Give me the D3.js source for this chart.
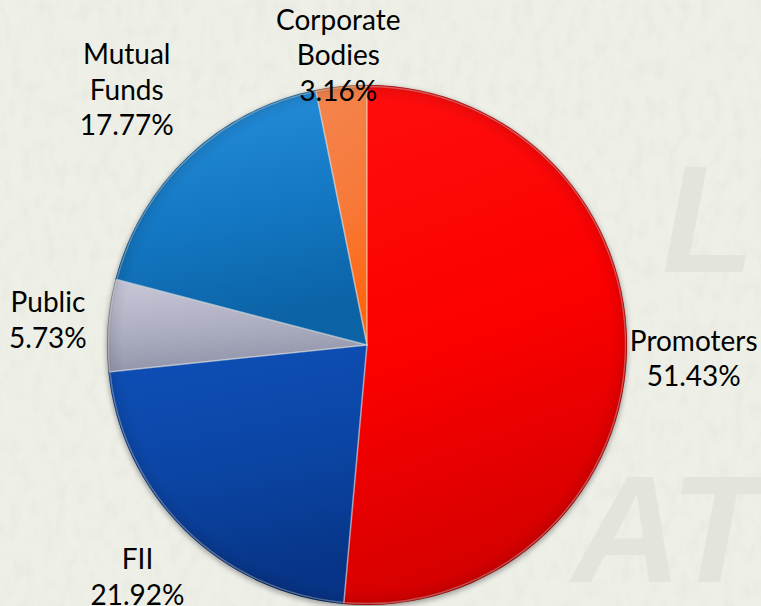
<!DOCTYPE html>
<html>
<head>
<meta charset="utf-8">
<script src="https://cdn.jsdelivr.net/npm/d3@7"></script>
<style>
  html, body { margin: 0; padding: 0; background: #eef0e8; }
  svg { display: block; }
</style>
</head>
<body>
<div id="chart"></div>
<script>
// shareholding pattern
const categories = ["Promoters", "FII", "Public", "Mutual Funds", "Corporate Bodies"];
const shares = [51.43, 21.92, 5.73, 17.77, 3.16];
const labelLines = [["Promoters"], ["FII"], ["Public"], ["Mutual", "Funds"], ["Corporate", "Bodies"]];

// colours per slice: [top, middle, bottom]
const sliceColors = [
    ["#ff0e0e", "#fb0000", "#d40000"],
    ["#0e50b8", "#0b45a4", "#073486"],
    ["#c8cada", "#aeb0c2", "#9294aa"],
    ["#2892de", "#1478c4", "#0b62a4"],
    ["#f3854f", "#f77a3a", "#ff6610"]
];
// distance of each label block from the pie centre
const labelRadius = [327, 327, 320, 350, 290];

const width = 761, height = 606;
const cx = 367, cy = 345, radius = 260;
const lineHeight = 35.5;

const svg = d3.select("#chart")
              .append("svg")
              .attr("width", width)
              .attr("height", height);
const defs = svg.append("defs");

// paper texture
const paper = defs.append("filter")
                  .attr("id", "paper")
                  .attr("x", 0).attr("y", 0)
                  .attr("width", 1).attr("height", 1);
paper.append("feTurbulence")
     .attr("type", "fractalNoise")
     .attr("baseFrequency", "0.09 0.05")
     .attr("numOctaves", 3)
     .attr("seed", 7);
paper.append("feColorMatrix")
     .attr("values", "0 0 0 0 0.55  0 0 0 0 0.56  0 0 0 0 0.5  0 0 0 -1.2 0.7");
paper.append("feComposite").attr("in2", "SourceGraphic").attr("operator", "in");

const blur = defs.append("filter")
                 .attr("id", "blur")
                 .attr("x", -0.1).attr("y", -0.1)
                 .attr("width", 1.2).attr("height", 1.2);
blur.append("feGaussianBlur").attr("stdDeviation", 2.5);

sliceColors.forEach((c, i) => {
    const g = defs.append("linearGradient")
                  .attr("id", "slice" + i)
                  .attr("x1", 0).attr("y1", 0)
                  .attr("x2", 0.2).attr("y2", 1);
    g.append("stop").attr("offset", "0%").attr("stop-color", c[0]);
    g.append("stop").attr("offset", "55%").attr("stop-color", c[1]);
    g.append("stop").attr("offset", "100%").attr("stop-color", c[2]);
});

// darker rim like the bevel of the original (pie-centred coords)
const rim = defs.append("radialGradient")
                .attr("id", "rim")
                .attr("gradientUnits", "userSpaceOnUse")
                .attr("cx", 0).attr("cy", 0).attr("r", radius);
rim.append("stop").attr("offset", "0%").attr("stop-color", "#000").attr("stop-opacity", 0);
rim.append("stop").attr("offset", "94%").attr("stop-color", "#000").attr("stop-opacity", 0);
rim.append("stop").attr("offset", "98.5%").attr("stop-color", "#000").attr("stop-opacity", 0.07);
rim.append("stop").attr("offset", "100%").attr("stop-color", "#000").attr("stop-opacity", 0.28);

// background
svg.append("rect")
   .attr("width", width)
   .attr("height", height)
   .attr("fill", "#eef0e8");
svg.append("rect")
   .attr("width", width)
   .attr("height", height)
   .attr("fill", "#fff")
   .attr("filter", "url(#paper)")
   .attr("opacity", 0.22);

// watermark letters
const mark = svg.append("g")
                .attr("font-family", "'Liberation Sans', Arial, sans-serif")
                .attr("font-weight", "bold")
                .attr("font-style", "italic")
                .attr("font-size", 152)
                .attr("fill", "#e3e5dc");
mark.append("text").attr("x", 662).attr("y", 272).text("L");
mark.append("text").attr("x", 572).attr("y", 582).text("AT");

const pie = d3.pie().sort(null).value((d) => d);
const arcs = pie(shares);
const arc = d3.arc().innerRadius(0).outerRadius(radius);

const chart = svg.append("g")
                 .attr("transform", "translate(" + cx + "," + cy + ")");

// soft shadow under the pie
chart.append("circle")
     .attr("cy", 2)
     .attr("r", radius + 1)
     .attr("fill", "rgba(0,0,0,0.3)")
     .attr("filter", "url(#blur)");

chart.append("g")
     .selectAll("path.slice")
     .data(arcs)
     .join("path")
     .attr("class", "slice")
     .attr("d", arc)
     .attr("fill", (d, i) => "url(#slice" + i + ")")
     .attr("stroke", "rgba(0,0,0,0.15)")
     .attr("stroke-width", 0.6);

// rim overlay
chart.append("g")
     .selectAll("path")
     .data(arcs)
     .join("path")
     .attr("d", arc)
     .attr("fill", "url(#rim)")
     .attr("pointer-events", "none");

// light bevel along slice edges
chart.append("g")
     .selectAll("path")
     .data(arcs)
     .join("path")
     .attr("d", d3.arc().innerRadius(0).outerRadius(radius - 1.5))
     .attr("fill", "none")
     .attr("stroke", "rgba(255,255,255,0.3)")
     .attr("stroke-width", 1.5);

// labels
const labels = chart.append("g")
                    .attr("font-family", "Lato, 'Open Sans', sans-serif")
                    .attr("font-size", 28)
                    .attr("fill", "#000")
                    .attr("text-anchor", "middle");

labels.selectAll("text")
      .data(arcs)
      .join("text")
      .each(function (d, i) {
          const lines = labelLines[i].concat([shares[i].toFixed(2) + "%"]);
          const pos = d3.arc().innerRadius(labelRadius[i]).outerRadius(labelRadius[i]).centroid(d);
          const first = pos[1] - (lines.length - 1) * lineHeight / 2 + 9;
          d3.select(this)
            .selectAll("tspan")
            .data(lines)
            .join("tspan")
            .attr("x", pos[0])
            .attr("y", (t, j) => first + j * lineHeight)
            .text((t) => t);
      });
</script>
</body>
</html>
